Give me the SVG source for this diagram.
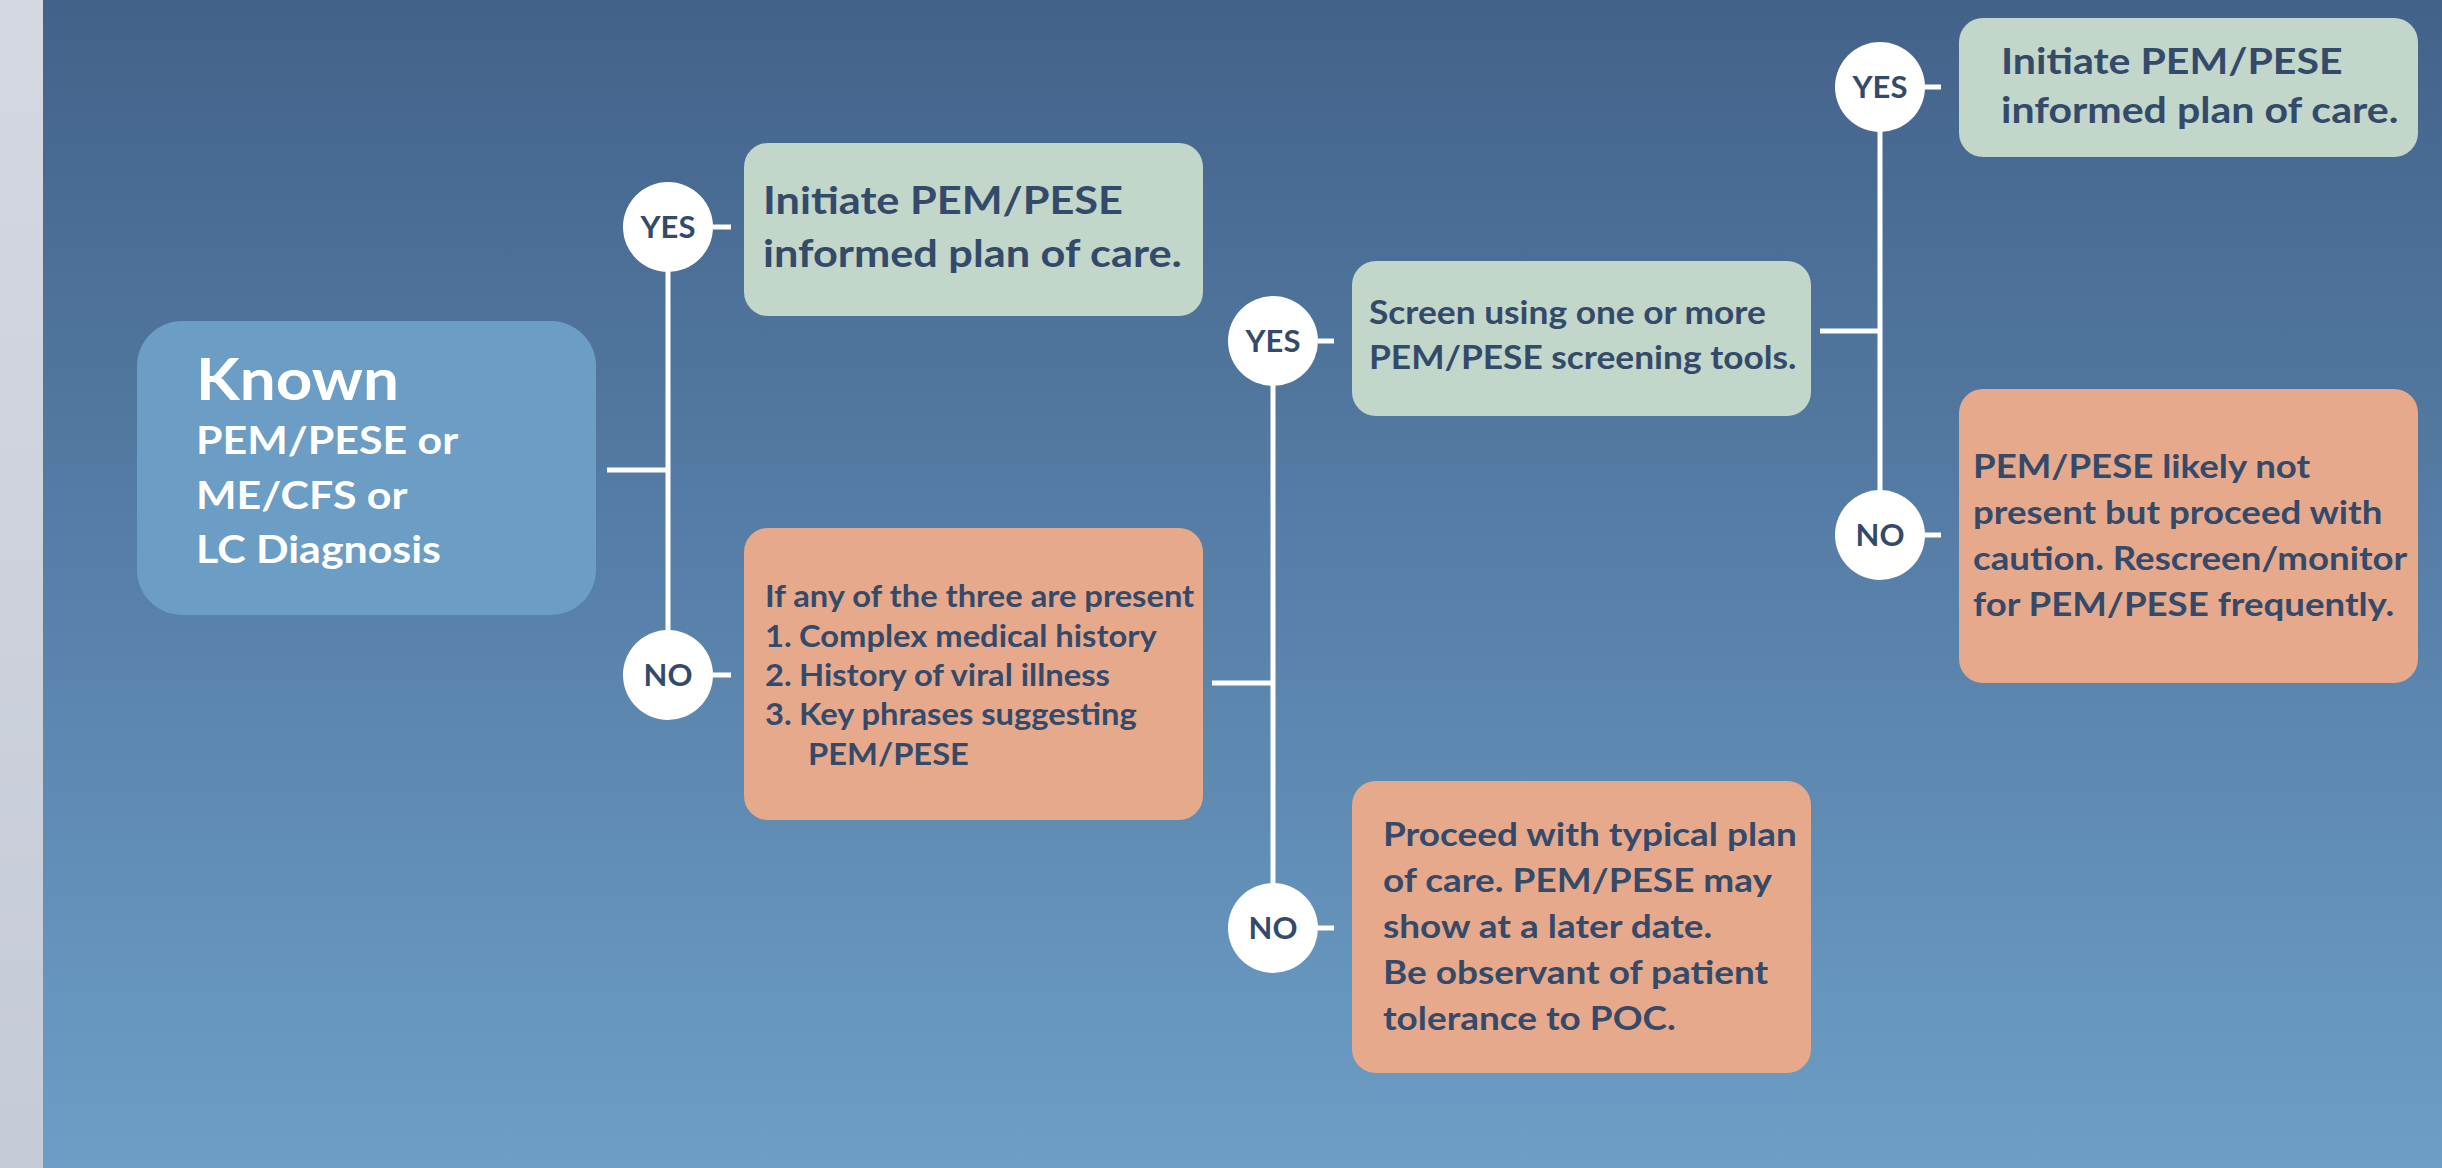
<svg xmlns="http://www.w3.org/2000/svg" width="2442" height="1168" viewBox="0 0 2442 1168">
<defs>
<linearGradient id="bg" x1="0" y1="0" x2="0" y2="1">
<stop offset="0" stop-color="#43628a"/>
<stop offset="1" stop-color="#6c9ec6"/>
</linearGradient>
<linearGradient id="strip" x1="0" y1="0" x2="0" y2="1">
<stop offset="0" stop-color="#d4d8e1"/>
<stop offset="1" stop-color="#c5cbd7"/>
</linearGradient>
<style>
.known{fill:#6b9dc5}
.green{fill:#c2d6ca}
.orange{fill:#e7a98b}
.t{font-family:Lato,"Open Sans","Liberation Sans",sans-serif;font-weight:700;fill:#344a6b}
.w{font-family:Lato,"Open Sans","Liberation Sans",sans-serif;font-weight:700;fill:#ffffff}
.circ{fill:#ffffff}
.ct{font-family:Lato,"Open Sans","Liberation Sans",sans-serif;font-weight:700;fill:#344a6b;font-size:31px;text-anchor:middle}
.ln{stroke:#ffffff;stroke-width:5;fill:none}
</style>
</defs>
<rect x="0" y="0" width="2442" height="1168" fill="url(#bg)"/>
<rect x="0" y="0" width="43" height="1168" fill="url(#strip)"/>

<g id="connectors">
<line class="ln" x1="607" y1="470" x2="668" y2="470"/>
<line class="ln" x1="668" y1="226" x2="668" y2="676"/>
<line class="ln" x1="713" y1="227" x2="731" y2="227"/>
<line class="ln" x1="713" y1="675" x2="731" y2="675"/>
<line class="ln" x1="1212" y1="683" x2="1273" y2="683"/>
<line class="ln" x1="1273" y1="341" x2="1273" y2="928"/>
<line class="ln" x1="1318" y1="341" x2="1334" y2="341"/>
<line class="ln" x1="1318" y1="928" x2="1334" y2="928"/>
<line class="ln" x1="1820" y1="331" x2="1880" y2="331"/>
<line class="ln" x1="1880" y1="87" x2="1880" y2="535"/>
<line class="ln" x1="1925" y1="87" x2="1941" y2="87"/>
<line class="ln" x1="1925" y1="535" x2="1941" y2="535"/>
</g>

<g id="known">
<rect class="known" x="137" y="321" width="459" height="294" rx="45"/>
<text class="w" font-size="58" transform="translate(196 400) scale(1.1 1)">Known</text>
<text class="w" font-size="39" transform="translate(196 454) scale(1.1 1)">PEM/PESE or</text>
<text class="w" font-size="39" transform="translate(196 509) scale(1.1 1)">ME/CFS or</text>
<text class="w" font-size="39" transform="translate(196 563) scale(1.1 1)">LC Diagnosis</text>
</g>

<g id="yes1">
<circle class="circ" cx="668" cy="227" r="45"/>
<text class="ct" x="668" y="238">YES</text>
</g>
<g id="no1">
<circle class="circ" cx="668" cy="675" r="45"/>
<text class="ct" x="668" y="686">NO</text>
</g>

<g id="green1">
<rect class="green" x="744" y="143" width="459" height="173" rx="24"/>
<text class="t" font-size="39" transform="translate(763 214) scale(1.11 1)">Initiate PEM/PESE</text>
<text class="t" font-size="39" transform="translate(763 267) scale(1.11 1)">informed plan of care.</text>
</g>

<g id="orange1">
<rect class="orange" x="744" y="528" width="459" height="292" rx="24"/>
<text class="t" font-size="30" transform="translate(765 607) scale(1.09 1)">If any of the three are present</text>
<text class="t" font-size="30" transform="translate(765 647) scale(1.09 1)">1.</text>
<text class="t" font-size="30" transform="translate(799 647) scale(1.09 1)">Complex medical history</text>
<text class="t" font-size="30" transform="translate(765 686) scale(1.09 1)">2.</text>
<text class="t" font-size="30" transform="translate(799 686) scale(1.09 1)">History of viral illness</text>
<text class="t" font-size="30" transform="translate(765 725) scale(1.09 1)">3.</text>
<text class="t" font-size="30" transform="translate(799 725) scale(1.09 1)">Key phrases suggesting</text>
<text class="t" font-size="30" transform="translate(808 765) scale(1.09 1)">PEM/PESE</text>
</g>

<g id="yes2">
<circle class="circ" cx="1273" cy="341" r="45"/>
<text class="ct" x="1273" y="352">YES</text>
</g>
<g id="no2">
<circle class="circ" cx="1273" cy="928" r="45"/>
<text class="ct" x="1273" y="939">NO</text>
</g>

<g id="green2">
<rect class="green" x="1352" y="261" width="459" height="155" rx="24"/>
<text class="t" font-size="33" transform="translate(1369 324) scale(1.07 1)">Screen using one or more</text>
<text class="t" font-size="33" transform="translate(1369 369) scale(1.07 1)">PEM/PESE screening tools.</text>
</g>

<g id="orange2">
<rect class="orange" x="1352" y="781" width="459" height="292" rx="24"/>
<text class="t" font-size="33" transform="translate(1383 846) scale(1.12 1)">Proceed with typical plan</text>
<text class="t" font-size="33" transform="translate(1383 892) scale(1.12 1)">of care. PEM/PESE may</text>
<text class="t" font-size="33" transform="translate(1383 938) scale(1.12 1)">show at a later date.</text>
<text class="t" font-size="33" transform="translate(1383 984) scale(1.12 1)">Be observant of patient</text>
<text class="t" font-size="33" transform="translate(1383 1030) scale(1.12 1)">tolerance to POC.</text>
</g>

<g id="yes3">
<circle class="circ" cx="1880" cy="87" r="45"/>
<text class="ct" x="1880" y="98">YES</text>
</g>
<g id="no3">
<circle class="circ" cx="1880" cy="535" r="45"/>
<text class="ct" x="1880" y="546">NO</text>
</g>

<g id="green3">
<rect class="green" x="1959" y="18" width="459" height="139" rx="24"/>
<text class="t" font-size="37" transform="translate(2001 74) scale(1.11 1)">Initiate PEM/PESE</text>
<text class="t" font-size="37" transform="translate(2001 123) scale(1.11 1)">informed plan of care.</text>
</g>

<g id="orange3">
<rect class="orange" x="1959" y="389" width="459" height="294" rx="24"/>
<text class="t" font-size="33" transform="translate(1973 478) scale(1.11 1)">PEM/PESE likely not</text>
<text class="t" font-size="33" transform="translate(1973 524) scale(1.11 1)">present but proceed with</text>
<text class="t" font-size="33" transform="translate(1973 570) scale(1.11 1)">caution. Rescreen/monitor</text>
<text class="t" font-size="33" transform="translate(1973 616) scale(1.11 1)">for PEM/PESE frequently.</text>
</g>
</svg>
